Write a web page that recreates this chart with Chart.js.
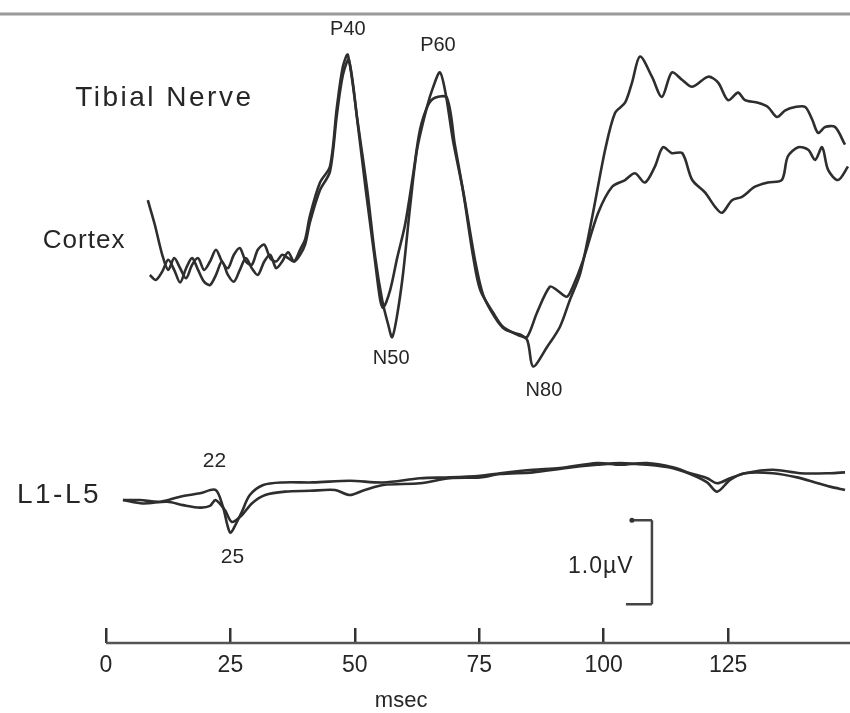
<!DOCTYPE html>
<html>
<head>
<meta charset="utf-8">
<script src="https://cdn.jsdelivr.net/npm/chart.js@4/dist/chart.umd.min.js"></script>
<style>
  html, body { margin: 0; padding: 0; background: #ffffff; }
  #wrap { width: 850px; height: 713px; position: relative; }
</style>
</head>
<body>
<div id="wrap"><canvas id="sep" width="850" height="713"></canvas></div>
<script>
// Tibial nerve somatosensory evoked potentials, two superimposed trials.
// Times in msec, amplitudes in µV relative to each channel's own baseline.

const cortexTimeA = [8.4, 9.8, 11.3, 12.5, 13.7, 14.9, 16.1, 17.3, 18.5, 19.7, 20.9, 22.1, 23.3, 24.5, 25.7, 26.9, 28.1, 29.3, 30.5, 31.8, 33.0, 34.2, 35.4, 36.6, 37.8, 39.0, 40.0, 41.0, 43.0, 45.0, 46.4, 47.6, 48.6, 50.6, 52.5, 54.1, 55.5, 56.7, 57.5, 58.5, 59.7, 61.1, 62.5, 64.5, 65.7, 67.1, 68.3, 69.7, 71.7, 73.8, 75.2, 77.8, 79.8, 82.6, 84.6, 85.8, 88.6, 91.2, 93.2, 95.3, 97.7, 100.3, 102.3, 104.3, 105.7, 107.3, 109.7, 111.7, 113.7, 115.8, 117.8, 121.0, 123.0, 125.0, 127.0, 128.4, 131.0, 133.0, 134.8, 136.5, 138.5, 140.5, 141.9, 143.1, 144.5, 146.5, 148.5];
const cortexA = [0.83, 0.54, 0.18, 0.00, 0.14, 0.02, -0.10, 0.06, 0.14, 0.00, 0.10, 0.24, 0.10, 0.02, 0.18, 0.26, 0.10, 0.06, 0.24, 0.30, 0.14, 0.10, 0.18, 0.14, 0.10, 0.24, 0.36, 0.65, 1.04, 1.23, 1.94, 2.42, 2.56, 1.75, 0.95, 0.15, -0.36, -0.65, -0.80, -0.54, -0.04, 0.75, 1.43, 1.94, 2.17, 2.35, 2.08, 1.55, 0.95, 0.15, -0.24, -0.51, -0.68, -0.77, -0.83, -1.15, -0.92, -0.68, -0.36, -0.04, 0.63, 1.43, 1.87, 1.99, 2.23, 2.54, 2.30, 2.06, 2.35, 2.26, 2.18, 2.30, 2.23, 2.02, 2.11, 2.02, 1.99, 1.94, 1.82, 1.90, 1.94, 1.94, 1.79, 1.63, 1.70, 1.70, 1.49];

const cortexTimeB = [8.8, 10.0, 11.3, 12.5, 13.7, 14.9, 16.1, 17.3, 18.5, 19.7, 20.9, 22.1, 23.3, 24.5, 25.7, 26.9, 28.1, 29.3, 30.5, 31.8, 33.0, 34.2, 35.4, 36.6, 37.8, 39.0, 40.0, 41.0, 43.0, 45.0, 46.4, 47.6, 48.8, 50.6, 52.2, 53.9, 55.1, 55.7, 57.1, 58.5, 60.1, 61.7, 63.1, 64.7, 66.1, 68.5, 70.1, 72.1, 74.2, 75.8, 78.2, 80.2, 83.2, 84.6, 86.6, 89.2, 90.6, 92.6, 93.8, 95.9, 98.9, 101.7, 104.3, 106.3, 108.3, 110.3, 111.9, 113.7, 115.8, 117.8, 120.4, 122.4, 123.8, 125.8, 127.8, 130.4, 133.0, 135.8, 137.0, 139.1, 141.1, 142.5, 143.9, 145.1, 147.1, 149.1];
const cortexB = [-0.06, -0.12, -0.02, 0.12, 0.00, -0.15, 0.02, 0.14, 0.00, -0.14, -0.18, -0.06, 0.10, -0.06, -0.14, 0.00, 0.14, 0.02, -0.06, 0.10, 0.18, 0.02, 0.10, 0.21, 0.10, 0.18, 0.30, 0.57, 0.95, 1.17, 1.85, 2.32, 2.50, 1.73, 0.95, 0.18, -0.36, -0.45, -0.24, 0.14, 0.54, 1.13, 1.67, 1.96, 2.05, 2.05, 1.49, 0.83, 0.10, -0.30, -0.57, -0.71, -0.77, -0.80, -0.51, -0.20, -0.24, -0.32, -0.20, 0.12, 0.68, 0.99, 1.07, 1.15, 1.04, 1.23, 1.46, 1.39, 1.39, 1.07, 0.92, 0.75, 0.68, 0.83, 0.87, 0.99, 1.04, 1.07, 1.35, 1.46, 1.43, 1.31, 1.46, 1.19, 1.07, 1.23];

const spinalTimeC = [3.4, 6.8, 10.9, 14.9, 18.9, 22.0, 23.5, 24.4, 25.0, 25.8, 27.3, 28.9, 31.6, 35.6, 41.6, 49.0, 55.7, 63.1, 69.1, 75.2, 79.2, 85.8, 91.2, 98.7, 103.3, 108.7, 113.9, 117.4, 120.8, 122.8, 125.4, 128.4, 134.0, 139.5, 145.5, 148.5];
const spinalC = [-0.06, -0.06, -0.08, -0.02, 0.02, 0.06, -0.14, -0.36, -0.45, -0.38, -0.20, 0.00, 0.12, 0.15, 0.15, 0.17, 0.15, 0.20, 0.21, 0.23, 0.26, 0.30, 0.32, 0.38, 0.36, 0.38, 0.33, 0.26, 0.20, 0.14, 0.20, 0.26, 0.30, 0.26, 0.26, 0.27];

const spinalTimeD = [3.4, 7.4, 12.3, 15.5, 18.9, 20.9, 22.0, 23.9, 25.3, 27.3, 29.3, 32.0, 36.0, 41.0, 46.0, 49.0, 52.0, 55.7, 63.1, 69.1, 75.2, 79.2, 85.8, 92.2, 98.7, 103.3, 108.7, 113.9, 117.4, 120.8, 122.8, 125.4, 128.4, 134.0, 138.9, 142.5, 145.5, 148.5];
const spinalD = [-0.06, -0.10, -0.08, -0.12, -0.15, -0.13, -0.06, -0.18, -0.32, -0.24, -0.10, 0.00, 0.04, 0.05, 0.06, 0.00, 0.06, 0.12, 0.14, 0.20, 0.21, 0.25, 0.27, 0.32, 0.36, 0.38, 0.36, 0.32, 0.25, 0.15, 0.04, 0.18, 0.26, 0.26, 0.21, 0.15, 0.10, 0.06];

const timeTicks = [0, 25, 50, 75, 100, 125];

// Channel baselines on the shared µV axis (cortex drawn above the lumbar lead).
const CORTEX_BASE = 2.68;
const SPINAL_BASE = 0;
const CALIBRATION_UV = 1.0;

// Text placed on the trace panel, in msec / µV coordinates.
const notes = [
  { text: 'Tibial Nerve', x: -6.2, y: 4.72, align: 'left', size: 28, spacing: 2.5 },
  { text: 'Cortex', x: -12.7, y: 3.03, align: 'left', size: 26, spacing: 1 },
  { text: 'L1-L5', x: -17.9, y: 0.0, align: 'left', size: 28, spacing: 2.5 },
  { text: 'P40', x: 48.6, y: 5.54, align: 'center', size: 20, spacing: 0 },
  { text: 'P60', x: 66.7, y: 5.35, align: 'center', size: 20, spacing: 0 },
  { text: 'N50', x: 57.3, y: 1.63, align: 'center', size: 20, spacing: 0 },
  { text: 'N80', x: 88.0, y: 1.25, align: 'center', size: 20, spacing: 0 },
  { text: '22', x: 21.8, y: 0.40, align: 'center', size: 21, spacing: 0 },
  { text: '25', x: 25.4, y: -0.74, align: 'center', size: 21, spacing: 0 },
  { text: '1.0µV', x: 106.0, y: -0.85, align: 'right', size: 23, spacing: 1 }
];

const INK = '#262626';
const FONT = '"Liberation Sans", Arial, Helvetica, sans-serif';

function pts(times, vals, base) {
  return times.map((t, i) => ({ x: t, y: vals[i] + base }));
}

function trace(label, data) {
  return {
    label, data,
    borderColor: '#2e2e2e', borderWidth: 2.6,
    pointRadius: 0, tension: 0.3, fill: false
  };
}

const panelDecor = {
  id: 'panelDecor',
  afterDraw(chart) {
    const { ctx, scales: { x, y } } = chart;
    ctx.save();

    // rule across the top of the panel
    ctx.strokeStyle = '#9a9a9a';
    ctx.lineWidth = 3;
    ctx.beginPath(); ctx.moveTo(0, 14); ctx.lineTo(chart.width, 14); ctx.stroke();

    // time axis baseline under the upward tick marks
    const baseY = x.top + x.options.grid.tickLength;
    ctx.strokeStyle = '#555555';
    ctx.lineWidth = 2.5;
    ctx.beginPath();
    ctx.moveTo(x.getPixelForValue(0), baseY);
    ctx.lineTo(x.right, baseY);
    ctx.stroke();

    // 1.0 µV calibration bar
    const calX = x.getPixelForValue(109.7);
    const calLow = y.getPixelForValue(-1.30);
    const calHigh = y.getPixelForValue(-1.30 + CALIBRATION_UV);
    ctx.strokeStyle = '#444444';
    ctx.lineWidth = 2.5;
    ctx.beginPath();
    ctx.moveTo(calX, calHigh); ctx.lineTo(calX, calLow);
    ctx.moveTo(calX - 22, calHigh); ctx.lineTo(calX, calHigh);
    ctx.moveTo(calX - 26, calLow); ctx.lineTo(calX, calLow);
    ctx.stroke();
    ctx.fillStyle = '#333333';
    ctx.beginPath(); ctx.arc(calX - 20, calHigh, 2.5, 0, Math.PI * 2); ctx.fill();

    // labels
    ctx.fillStyle = INK;
    ctx.textBaseline = 'middle';
    notes.forEach(n => {
      ctx.font = n.size + 'px ' + FONT;
      ctx.letterSpacing = n.spacing + 'px';
      ctx.textAlign = n.align;
      ctx.fillText(n.text, x.getPixelForValue(n.x), y.getPixelForValue(n.y));
    });

    // time axis unit
    ctx.letterSpacing = '0px';
    ctx.font = '22px ' + FONT;
    ctx.textAlign = 'center';
    ctx.fillText('msec', x.getPixelForValue(59.3), x.bottom - 12);
    ctx.restore();
  }
};

new Chart(document.getElementById('sep'), {
  type: 'line',
  data: {
    datasets: [
      trace('Cortex 1', pts(cortexTimeA, cortexA, CORTEX_BASE)),
      trace('Cortex 2', pts(cortexTimeB, cortexB, CORTEX_BASE)),
      trace('L1-L5 1', pts(spinalTimeC, spinalC, SPINAL_BASE)),
      trace('L1-L5 2', pts(spinalTimeD, spinalD, SPINAL_BASE))
    ]
  },
  options: {
    responsive: false,
    animation: false,
    layout: { padding: { left: 106, right: 0, top: 0, bottom: 0 } },
    plugins: { legend: { display: false }, tooltip: { enabled: false } },
    scales: {
      x: {
        type: 'linear',
        min: 0, max: 149.5,
        afterBuildTicks: s => { s.ticks = timeTicks.map(v => ({ value: v })); },
        afterFit: s => { s.height = 85; },
        grid: { drawOnChartArea: false, drawTicks: true, tickLength: 15, color: '#333333', lineWidth: 2.5 },
        border: { display: false },
        ticks: { color: INK, font: { family: FONT, size: 23 }, padding: 9, maxRotation: 0, autoSkip: false },
        title: { display: false }
      },
      y: {
        display: false,
        min: -1.583, max: 5.893
      }
    }
  },
  plugins: [panelDecor]
});
</script>
</body>
</html>
